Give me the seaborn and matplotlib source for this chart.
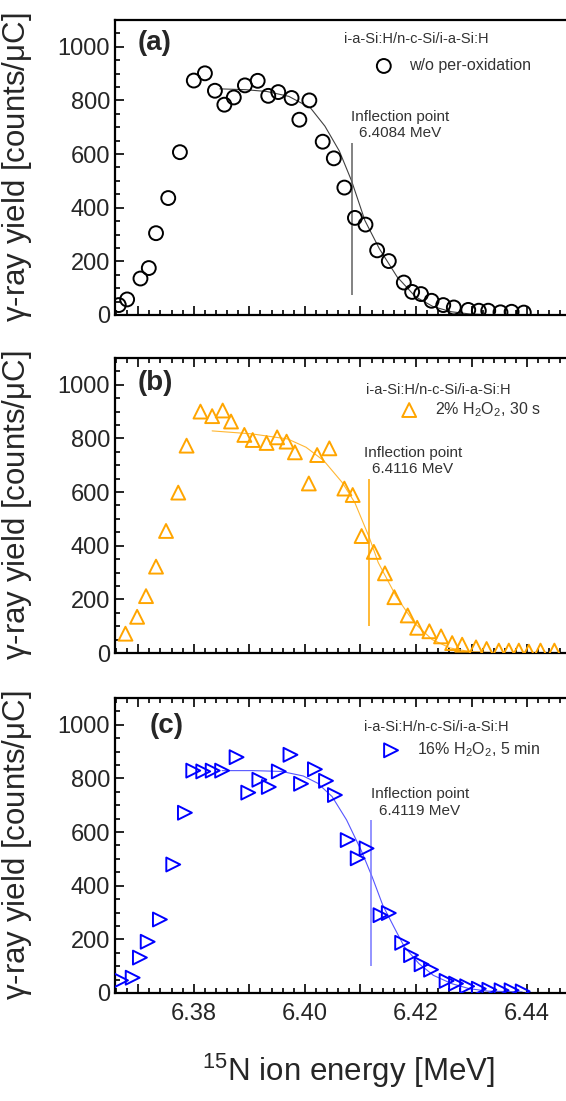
import matplotlib
matplotlib.use("Agg")
import matplotlib.pyplot as plt
from matplotlib.ticker import MultipleLocator, FuncFormatter
import seaborn as sns

# panel (a): w/o per-oxidation
energy_a = [6.3665, 6.3680, 6.3704, 6.3719, 6.3732, 6.3754, 6.3775, 6.3800, 6.3820, 6.3838,
            6.3855, 6.3872, 6.3892, 6.3915, 6.3934, 6.3952, 6.3976, 6.3990, 6.4008, 6.4032,
            6.4052, 6.4071, 6.4090, 6.4109, 6.4130, 6.4151, 6.4178, 6.4193, 6.4209, 6.4228,
            6.4249, 6.4268, 6.4294, 6.4313, 6.4330, 6.4352, 6.4372, 6.4394]
yield_a = [37, 58, 136, 175, 305, 436, 607, 874, 901, 836,
           784, 811, 856, 873, 817, 831, 809, 728, 800, 646,
           584, 475, 362, 337, 241, 201, 121, 86, 78, 53,
           37, 28, 19, 16, 16, 10, 12, 9]
fit_a_x = [6.3847, 6.3893, 6.3932, 6.3971, 6.4010, 6.4036, 6.4062, 6.4084, 6.4108, 6.4134,
           6.4166, 6.4199, 6.4231, 6.4264, 6.4296, 6.4330]
fit_a_y = [843, 840, 833, 815, 772, 704, 611, 500, 352, 247, 142, 68, 31, 12, 4, 1]

# panel (b): 2% H2O2, 30 s
energy_b = [6.3677, 6.3698, 6.3714, 6.3732, 6.3750, 6.3772, 6.3787, 6.3812, 6.3833, 6.3852,
            6.3867, 6.3891, 6.3906, 6.3931, 6.3950, 6.3967, 6.3982, 6.4007, 6.4022, 6.4044,
            6.4071, 6.4086, 6.4102, 6.4124, 6.4144, 6.4161, 6.4185, 6.4202, 6.4224, 6.4245,
            6.4265, 6.4283, 6.4308, 6.4327, 6.4349, 6.4367, 6.4385, 6.4403, 6.4424, 6.4449]
yield_b = [72, 135, 212, 322, 455, 598, 773, 900, 883, 904,
           863, 813, 794, 783, 804, 788, 748, 632, 738, 763,
           613, 589, 436, 377, 297, 208, 140, 94, 81, 62,
           37, 31, 21, 15, 9, 9, 9, 5, 9, 9]
fit_b_x = [6.3833, 6.3904, 6.3969, 6.4002, 6.4034, 6.4067, 6.4090, 6.4116, 6.4132, 6.4164,
           6.4197, 6.4229, 6.4261, 6.4294, 6.4359, 6.4474]
fit_b_y = [828, 817, 798, 767, 717, 636, 560, 430, 337, 212, 112, 50, 19, 6, 0, 0]

# panel (c): 16% H2O2, 5 min
energy_c = [6.3669, 6.3690, 6.3703, 6.3717, 6.3739, 6.3763, 6.3784, 6.3799, 6.3817, 6.3834,
            6.3851, 6.3877, 6.3898, 6.3918, 6.3935, 6.3953, 6.3974, 6.3993, 6.4018, 6.4038,
            6.4054, 6.4077, 6.4095, 6.4111, 6.4136, 6.4151, 6.4175, 6.4191, 6.4210, 6.4227,
            6.4255, 6.4272, 6.4292, 6.4313, 6.4332, 6.4354, 6.4372, 6.4392]
yield_c = [47, 57, 132, 191, 274, 479, 672, 829, 826, 829,
           829, 879, 747, 795, 768, 826, 888, 780, 834, 791,
           738, 570, 502, 539, 290, 298, 187, 141, 107, 87,
           45, 35, 25, 16, 12, 10, 10, 6]
fit_c_x = [6.3851, 6.3906, 6.3958, 6.3997, 6.4023, 6.4049, 6.4075, 6.4101, 6.4121, 6.4140,
           6.4160, 6.4179, 6.4205, 6.4231, 6.4264, 6.4296, 6.4329, 6.4391]
fit_c_y = [829, 829, 826, 809, 782, 732, 645, 533, 433, 328, 247, 172, 110, 66, 35, 16, 7, 4]

inflection = [6.4084, 6.4116, 6.4119]
vline_low = [74, 100, 100]
vline_high = [642, 648, 645]
panel_tags = ["(a)", "(b)", "(c)"]
series_names = ["w/o per-oxidation", "2% H$_2$O$_2$, 30 s", "16% H$_2$O$_2$, 5 min"]
sample = "i-a-Si:H/n-c-Si/i-a-Si:H"

sns.set_style("ticks")
plt.rcParams['font.family'] = ['Liberation Sans', 'DejaVu Sans']
plt.rcParams['mathtext.default'] = 'regular'

fig = plt.figure(figsize=(5.66, 11.01), dpi=100)

panels = [
    dict(x=energy_a, y=yield_a, fx=fit_a_x, fy=fit_a_y, marker="o", color="black",
         fit_color="#404040", vcolor="#606060", bottom=0.7139, top_ticks=False,
         tag_pos=(0.05, 0.923), title_pos=(0.505, 0.935), leg_pos=(0.575, 0.845),
         text_xy=(6.4171, 709)),
    dict(x=energy_b, y=yield_b, fx=fit_b_x, fy=fit_b_y, marker="^", color="#FFA500",
         fit_color="#FFB733", vcolor="#FFA500", bottom=0.4069, top_ticks=True,
         tag_pos=(0.048, 0.915), title_pos=(0.553, 0.893), leg_pos=(0.631, 0.825),
         text_xy=(6.4194, 717)),
    dict(x=energy_c, y=yield_c, fx=fit_c_x, fy=fit_c_y, marker=">", color="#0000FF",
         fit_color="#5555FF", vcolor="#7777FF", bottom=0.0981, top_ticks=True,
         tag_pos=(0.076, 0.904), title_pos=(0.549, 0.901), leg_pos=(0.591, 0.824),
         text_xy=(6.4207, 710)),
]


def tick_label(v, pos):
    n = int(round(v * 100))
    if n % 2 == 0:
        return f"{v:.2f}"
    return ""


for i, p in enumerate(panels):
    ax = fig.add_axes([0.204, p["bottom"], 0.80, 0.268])

    sns.lineplot(x=p["fx"], y=p["fy"], ax=ax, color=p["fit_color"], lw=0.8,
                 sort=False, estimator=None)
    ax.vlines(inflection[i], vline_low[i], vline_high[i], color=p["vcolor"], lw=1.1)
    sns.scatterplot(x=p["x"], y=p["y"], ax=ax, marker=p["marker"], s=100,
                    facecolor="none", edgecolor=p["color"], linewidth=1.4,
                    label=series_names[i], zorder=3)

    ax.set_xlim(6.3659, 6.4474)
    ax.set_ylim(0, 1100)
    ax.xaxis.set_major_locator(MultipleLocator(0.01))
    ax.xaxis.set_minor_locator(MultipleLocator(0.002))
    ax.xaxis.set_major_formatter(FuncFormatter(tick_label))
    ax.yaxis.set_major_locator(MultipleLocator(200))
    ax.yaxis.set_minor_locator(MultipleLocator(50))
    ax.tick_params(which="both", direction="in", top=p["top_ticks"], right=False,
                   width=1.2, labelsize=17, color="black")
    ax.tick_params(which="major", length=6.5)
    ax.tick_params(which="minor", length=3.5)
    ax.tick_params(axis="y", pad=4)
    ax.tick_params(axis="x", pad=7)
    for side in ["left", "bottom", "top"]:
        ax.spines[side].set_linewidth(1.6)
        ax.spines[side].set_color("black")
    ax.spines["right"].set_visible(False)

    ax.set_ylabel("$\\gamma$-ray yield [counts/μC]", fontsize=22.5)
    ax.yaxis.set_label_coords(-0.18, 0.5)
    if i < 2:
        ax.tick_params(labelbottom=False)
        ax.set_xlabel("")
    else:
        ax.set_xlabel("$^{15}$N ion energy [MeV]", fontsize=22.5)
        ax.xaxis.set_label_coords(0.515, -0.2)

    ax.text(p["tag_pos"][0], p["tag_pos"][1], panel_tags[i], transform=ax.transAxes,
            fontsize=20, fontweight="bold", va="center", ha="left")
    ax.text(p["title_pos"][0], p["title_pos"][1], sample, transform=ax.transAxes,
            fontsize=10.5, color="#333333", va="center", ha="left")
    ax.text(p["text_xy"][0], p["text_xy"][1], "Inflection point\n" + f"{inflection[i]:.4f} MeV",
            fontsize=11, color="#333333", ha="center", va="center", multialignment="center",
            linespacing=1.2)

    ax.legend(loc="center left", bbox_to_anchor=p["leg_pos"], frameon=False,
              fontsize=11.5, handlelength=1.0, handletextpad=1.1, borderpad=0,
              borderaxespad=0, scatterpoints=1, labelcolor="#333333")

fig.savefig("out.png", dpi=100)
